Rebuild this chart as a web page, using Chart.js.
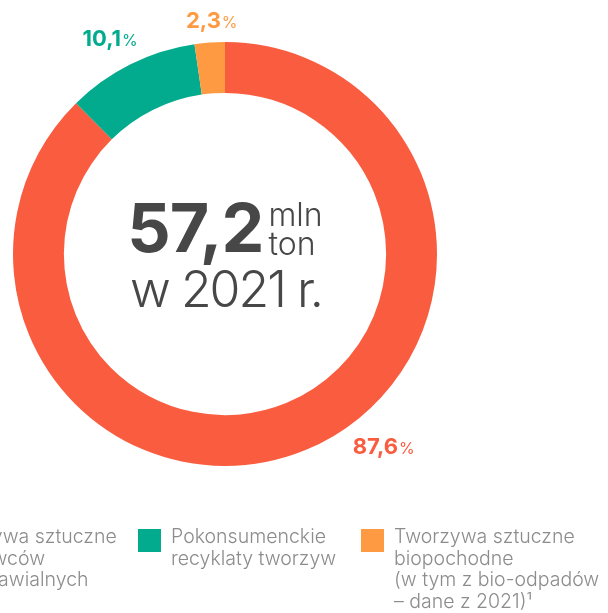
<!DOCTYPE html>
<html lang="pl">
<head>
<meta charset="utf-8">
<title>Tworzywa sztuczne 2021</title>
<script src="https://cdn.jsdelivr.net/npm/chart.js@4/dist/chart.umd.min.js"></script>
<style>
    html, body {
        margin: 0;
        padding: 0;
        background: #ffffff;
        overflow: hidden;
    }
    #wrap {
        position: relative;
        width: 608px;
        height: 613px;
    }
</style>
</head>
<body>
<div id="wrap"><canvas id="chart"></canvas></div>
<script>
// Data
const categories = [
    ['Tworzywa sztuczne', 'z surowców', 'nieodnawialnych'],
    ['Pokonsumenckie', 'recyklaty tworzyw'],
    ['Tworzywa sztuczne', 'biopochodne', '(w tym z bio-odpadów', '– dane z 2021)¹']
];
const shares = [87.6, 10.1, 2.3];
const shareLabels = ['87,6', '10,1', '2,3'];
const colors = ['#F95C3F', '#02AB8D', '#FE9A42'];

const totalValue = '57,2';
const totalUnit = ['mln', 'ton'];
const totalYear = 'w 2021 r.';

// Styling
const FONT = 'Inter, "Noto Sans", sans-serif';
const TEXT_DARK = '#474747';
const LEGEND_GREY = '#8c8c8c';

// where each percentage sits: shift from the slice middle (deg) and distance from centre
const labelPlacement = [
    { shift: -17.3, dist: 249 },
    { shift: -1.5, dist: 245 },
    { shift: 0.9, dist: 234 }
];

// legend columns (first one is cut by the left edge, like in the source graphic)
const legendColumns = [-97, 138, 361];
const legendTop = 529;

// Percentage labels outside the ring
const percentLabels = {
    id: 'percentLabels',
    afterDatasetsDraw(chart) {
        const { ctx } = chart;
        const arcs = chart.getDatasetMeta(0).data;
        ctx.save();
        ctx.textBaseline = 'alphabetic';
        ctx.textAlign = 'left';
        arcs.forEach((arc, i) => {
            const { x, y, startAngle, endAngle } = arc.getProps(['x', 'y', 'startAngle', 'endAngle'], true);
            const place = labelPlacement[i];
            const angle = (startAngle + endAngle) / 2 + place.shift * Math.PI / 180;
            const cx = x + Math.cos(angle) * place.dist;
            const cy = y + Math.sin(angle) * place.dist;

            const numFont = `700 22px ${FONT}`;
            const pctFont = `400 16px ${FONT}`;
            ctx.font = numFont;
            const wNum = ctx.measureText(shareLabels[i]).width;
            ctx.font = pctFont;
            const wPct = ctx.measureText('%').width;
            const left = cx - (wNum + wPct + 1) / 2;
            const base = cy + 8;

            ctx.fillStyle = colors[i];
            ctx.font = numFont;
            ctx.fillText(shareLabels[i], left, base);
            ctx.font = pctFont;
            ctx.fillText('%', left + wNum + 1, base);
        });
        ctx.restore();
    }
};

// Total in the middle of the doughnut
const centerText = {
    id: 'centerText',
    afterDatasetsDraw(chart) {
        const { ctx } = chart;
        const arc = chart.getDatasetMeta(0).data[0];
        const { x, y } = arc.getProps(['x', 'y'], true);
        ctx.save();
        ctx.fillStyle = TEXT_DARK;
        ctx.textBaseline = 'alphabetic';
        ctx.textAlign = 'left';

        const bigFont = `700 68px ${FONT}`;
        const unitFont = `300 32px ${FONT}`;
        ctx.font = bigFont;
        ctx.letterSpacing = '-1px';
        const wBig = ctx.measureText(totalValue).width;
        ctx.font = unitFont;
        ctx.letterSpacing = '0px';
        const wUnit = Math.max(...totalUnit.map(t => ctx.measureText(t).width));
        const gap = 5;
        const left = x - (wBig + gap + wUnit) / 2;

        ctx.font = bigFont;
        ctx.letterSpacing = '-1px';
        ctx.fillText(totalValue, left, y - 2);
        ctx.letterSpacing = '0px';
        ctx.font = unitFont;
        ctx.fillText(totalUnit[0], left + wBig + gap, y - 28);
        ctx.fillText(totalUnit[1], left + wBig + gap, y + 1);

        ctx.font = `300 50px ${FONT}`;
        ctx.letterSpacing = '-2px';
        const wYear = ctx.measureText(totalYear).width;
        ctx.fillText(totalYear, x - wYear / 2 + 1, y + 53);
        ctx.restore();
    }
};

// Legend under the chart, multi-line labels
const bottomLegend = {
    id: 'bottomLegend',
    afterDraw(chart) {
        const { ctx } = chart;
        ctx.save();
        ctx.font = `300 19.5px ${FONT}`;
        ctx.textBaseline = 'alphabetic';
        ctx.textAlign = 'left';
        categories.forEach((lines, i) => {
            const x = legendColumns[i];
            ctx.fillStyle = colors[i];
            ctx.fillRect(x, legendTop, 23, 23);
            ctx.fillStyle = LEGEND_GREY;
            lines.forEach((line, j) => {
                ctx.fillText(line, x + 33, legendTop + 14 + j * 21.5);
            });
        });
        ctx.restore();
    }
};

const ctx = document.getElementById('chart').getContext('2d');
new Chart(ctx, {
    type: 'doughnut',
    data: {
        labels: categories.map(c => c.join(' ')),
        datasets: [{
            data: shares,
            backgroundColor: colors,
            borderWidth: 0,
            hoverOffset: 0
        }]
    },
    options: {
        responsive: true,
        maintainAspectRatio: false,
        animation: false,
        events: [],
        cutout: '76%',
        layout: {
            padding: { left: 13, top: 42, right: 171, bottom: 147 }
        },
        plugins: {
            legend: { display: false },
            tooltip: { enabled: false }
        }
    },
    plugins: [percentLabels, centerText, bottomLegend]
});
</script>
</body>
</html>
